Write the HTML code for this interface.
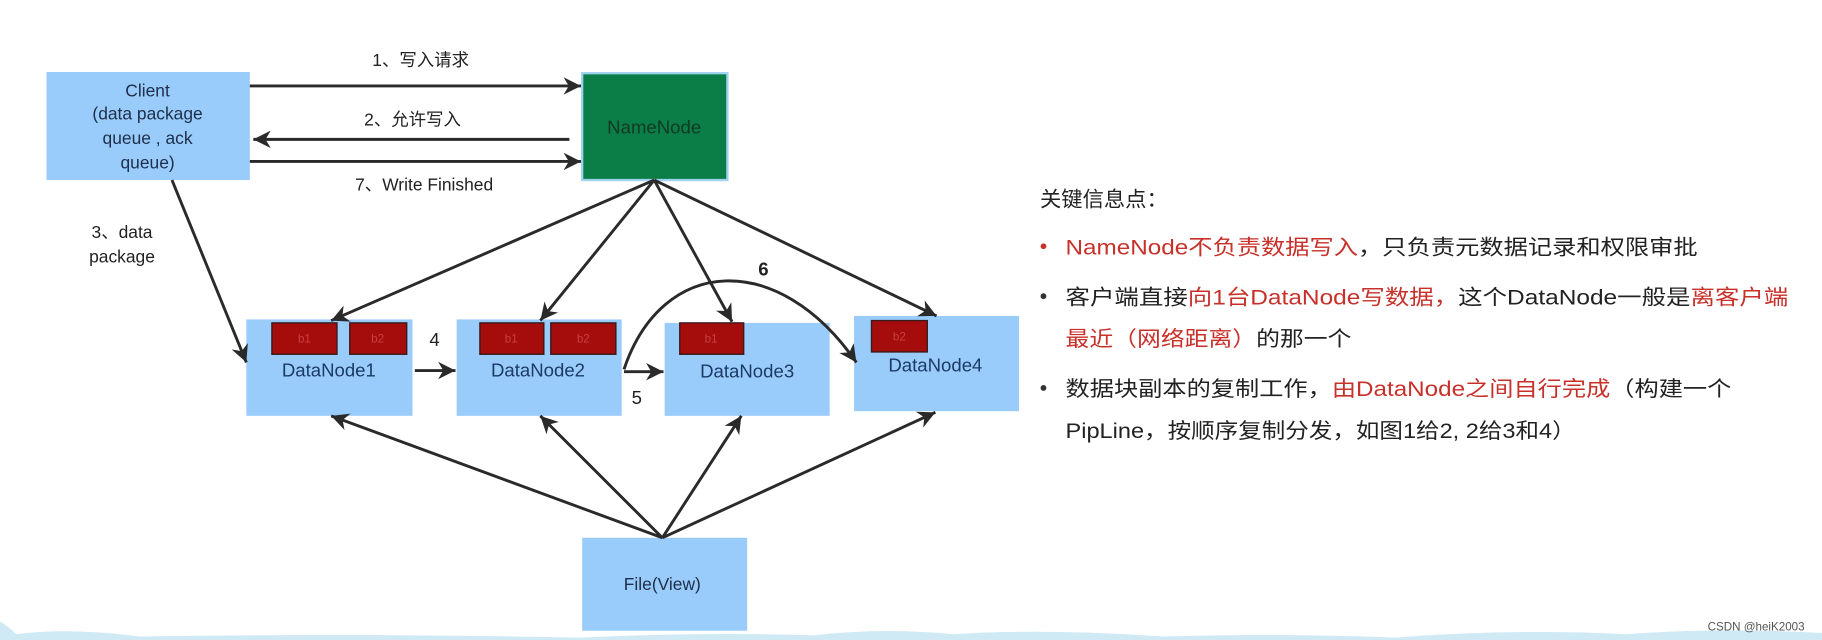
<!DOCTYPE html>
<html><head><meta charset="utf-8"><style>
html,body{margin:0;padding:0;background:#fff;}
svg{display:block;}
text{font-family:"Liberation Sans","Noto Sans CJK SC",sans-serif;}
</style></head><body>
<svg width="1822" height="640" viewBox="0 0 1568 551" preserveAspectRatio="none" xmlns="http://www.w3.org/2000/svg">
<defs>
<marker id="ah" viewBox="0 0 10 10" refX="10" refY="5" markerWidth="19" markerHeight="15" orient="auto" markerUnits="userSpaceOnUse"><path d="M0,0 L10,5 L0,10 L3,5 z" fill="#2a2a2a"/></marker>
</defs>
<rect width="1568" height="551" fill="#fff"/>
<path d="M0,551 L0,535 Q8,540 14,546 Q60,540 120,548 Q300,545 500,549 Q600,544 700,547 Q760,540 820,546 Q900,541 1000,548 Q1100,545 1200,549 Q1300,541 1400,546 Q1480,540 1568,545 L1568,551 Z" fill="#cfe9f5"/>

<rect x="40" y="62" width="175" height="93" fill="#99ccfb"/>
<rect x="501" y="63" width="125" height="92" fill="#0b7d46" stroke="#9fd3f0" stroke-width="2"/>
<rect x="212" y="275" width="143" height="83" fill="#99ccfb"/>
<rect x="393" y="275" width="142" height="83" fill="#99ccfb"/>
<rect x="572" y="278" width="142" height="80" fill="#99ccfb"/>
<rect x="735" y="272" width="142" height="82" fill="#99ccfb"/>
<rect x="501" y="463" width="142" height="80" fill="#99ccfb"/>

<g fill="#a50d0d" stroke="#3a1a1a" stroke-width="1.2">
<rect x="234" y="278" width="56" height="27"/><rect x="301" y="278" width="49" height="27"/>
<rect x="413" y="278" width="55" height="27"/><rect x="474" y="278" width="56" height="27"/>
<rect x="585" y="278" width="55" height="27"/>
<rect x="750" y="276" width="48" height="27"/>
</g>
<g fill="#c84040" font-size="10" text-anchor="middle">
<text x="262" y="295">b1</text><text x="325" y="295">b2</text>
<text x="440" y="295">b1</text><text x="502" y="295">b2</text>
<text x="612" y="295">b1</text><text x="774" y="293">b2</text>
</g>

<g fill="#1d2f4a" font-size="15" text-anchor="middle">
<text x="127" y="83">Client</text>
<text x="127" y="103">(data package</text>
<text x="127" y="124">queue , ack</text>
<text x="127" y="145">queue)</text>
<text x="283" y="324" font-size="16" fill="#1c3a66">DataNode1</text>
<text x="463" y="324" font-size="16" fill="#1c3a66">DataNode2</text>
<text x="643" y="325" font-size="16" fill="#1c3a66">DataNode3</text>
<text x="805" y="320" font-size="16" fill="#1c3a66">DataNode4</text>
<text x="570" y="508">File(View)</text>
</g>
<text x="563" y="115" font-size="16" fill="#123a22" text-anchor="middle">NameNode</text>

<g fill="#222" font-size="15" text-anchor="middle">
<text x="362" y="57">1、写入请求</text>
<text x="355" y="108">2、允许写入</text>
<text x="365" y="164">7、Write Finished</text>
<text x="105" y="205">3、data</text>
<text x="105" y="226">package</text>
<text x="374" y="298" font-size="16">4</text>
<text x="548" y="348" font-size="16">5</text>
<text x="657" y="237" font-size="16" font-weight="bold">6</text>
</g>

<g stroke="#2a2a2a" stroke-width="2.5" fill="none" marker-end="url(#ah)">
<line x1="215" y1="74" x2="500" y2="74"/>
<line x1="490" y1="120" x2="218" y2="120"/>
<line x1="215" y1="139" x2="500" y2="139"/>
<line x1="148" y1="155" x2="212" y2="312"/>
<line x1="563" y1="155" x2="285" y2="276"/>
<line x1="563" y1="155" x2="465" y2="276"/>
<line x1="563" y1="155" x2="630" y2="277"/>
<line x1="563" y1="155" x2="806" y2="272"/>
<line x1="357" y1="319" x2="392" y2="319"/>
<line x1="537" y1="320" x2="571" y2="320"/>
<path d="M537,318 C570,220 670,215 737,312"/>
<line x1="570" y1="463" x2="285" y2="358"/>
<line x1="570" y1="463" x2="465" y2="358"/>
<line x1="570" y1="463" x2="638" y2="358"/>
<line x1="570" y1="463" x2="805" y2="355"/>
</g>

<g font-size="18" fill="#222">
<text x="895" y="178" textLength="110" lengthAdjust="spacingAndGlyphs">关键信息点：</text>
<circle cx="898" cy="212" r="2.5" fill="#c8302a"/>
<text x="917" y="219" textLength="544" lengthAdjust="spacingAndGlyphs"><tspan fill="#c8302a">NameNode不负责数据写入</tspan>，只负责元数据记录和权限审批</text>
<circle cx="898" cy="255" r="2.5" fill="#333"/>
<text x="917" y="262" textLength="622" lengthAdjust="spacingAndGlyphs">客户端直接<tspan fill="#c8302a">向1台DataNode写数据，</tspan>这个DataNode一般是<tspan fill="#c8302a">离客户端</tspan></text>
<text x="917" y="298" textLength="246" lengthAdjust="spacingAndGlyphs"><tspan fill="#c8302a">最近（网络距离）</tspan>的那一个</text>
<circle cx="898" cy="334" r="2.5" fill="#333"/>
<text x="917" y="341" textLength="573" lengthAdjust="spacingAndGlyphs">数据块副本的复制工作，<tspan fill="#c8302a">由DataNode之间自行完成</tspan>（构建一个</text>
<text x="917" y="377" textLength="439" lengthAdjust="spacingAndGlyphs">PipLine，按顺序复制分发，如图1给2, 2给3和4）</text>
</g>
<text x="1553" y="543" font-size="10" fill="#555" text-anchor="end">CSDN @heiK2003</text>
</svg>
</body></html>
